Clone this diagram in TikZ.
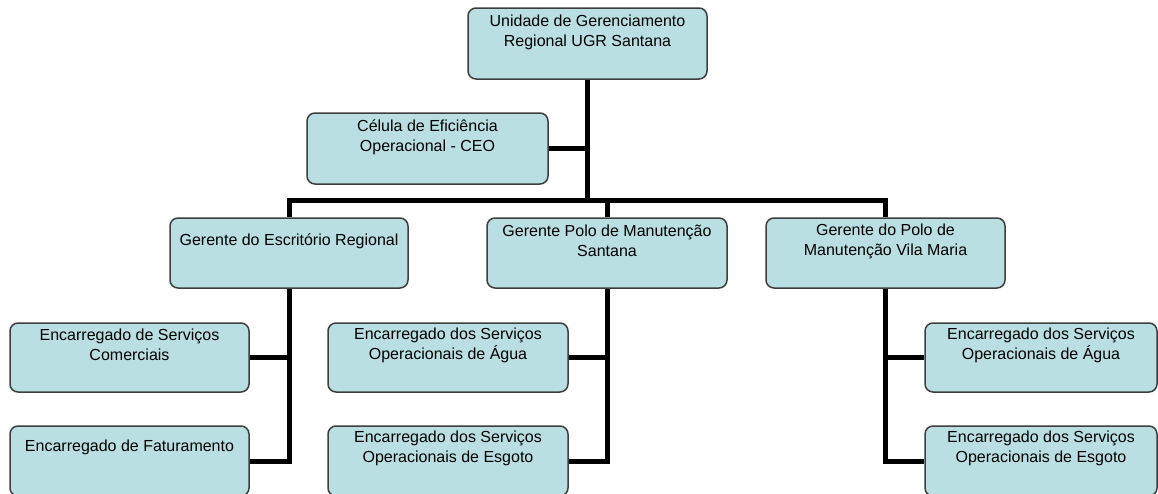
\documentclass[tikz,border=0pt]{standalone}
\usepackage{fontspec}
\setmainfont{Liberation Sans}
\usetikzlibrary{backgrounds}
\definecolor{boxfill}{RGB}{185,223,226}
\definecolor{boxline}{RGB}{62,62,62}
\tikzset{
  orgbox/.style={draw=boxline, fill=boxfill, rounded corners=8pt, line width=1.5pt,
    inner sep=0pt, minimum height=70pt},
  txt/.style={align=center, inner sep=0pt, font=\fontsize{16}{20}\selectfont},
  link/.style={draw=black, line width=5pt, line join=miter}
}
\begin{document}
\begin{tikzpicture}[x=1pt, y=-1pt]
\useasboundingbox (0,0) rectangle (1158,493);
\clip (0,0) rectangle (1158,493);

% boxes
\node[orgbox, minimum width=239pt, minimum height=71pt] (top) at (587.5,43.5) {};
\node[orgbox, minimum width=241pt, minimum height=71pt] (ceo) at (427.5,148.5) {};
\node[orgbox, minimum width=238pt] (g1) at (289,253) {};
\node[orgbox, minimum width=240pt] (g2) at (607,253) {};
\node[orgbox, minimum width=239pt] (g3) at (885.5,253) {};
\node[orgbox, minimum width=239pt, minimum height=69pt] (l1) at (129.5,357.5) {};
\node[orgbox, minimum width=239pt] (l2) at (129.5,461) {};
\node[orgbox, minimum width=240pt, minimum height=69pt] (m1) at (448,357.5) {};
\node[orgbox, minimum width=240pt] (m2) at (448,461) {};
\node[orgbox, minimum width=232pt, minimum height=69pt] (r1) at (1041,357.5) {};
\node[orgbox, minimum width=232pt] (r2) at (1041,461) {};

% texts
\node[txt] (top-t) at ([yshift=-25pt]top.north) {Unidade de Gerenciamento\\Regional UGR Santana};
\node[txt] (ceo-t) at ([yshift=-25pt]ceo.north) {Célula de Eficiência\\Operacional - CEO};
\node[txt] (g1-t) at ([yshift=-24pt]g1.north) {Gerente do Escritório Regional};
\node[txt] (g2-t) at ([yshift=-24pt]g2.north) {Gerente Polo de Manutenção\\Santana};
\node[txt] (g3-t) at ([yshift=-24pt]g3.north) {Gerente do Polo de\\Manutenção Vila Maria};
\node[txt] (l1-t) at ([yshift=-23pt]l1.north) {Encarregado de Serviços\\Comerciais};
\node[txt] (l2-t) at ([yshift=-22pt]l2.north) {Encarregado de Faturamento};
\node[txt] (m1-t) at ([yshift=-23pt]m1.north) {Encarregado dos Serviços\\Operacionais de Água};
\node[txt] (m2-t) at ([yshift=-23pt]m2.north) {Encarregado dos Serviços\\Operacionais de Esgoto};
\node[txt] (r1-t) at ([yshift=-23pt]r1.north) {Encarregado dos Serviços\\Operacionais de Água};
\node[txt] (r2-t) at ([yshift=-23pt]r2.north) {Encarregado dos Serviços\\Operacionais de Esgoto};

% connectors
\coordinate (busL) at (289,200);
\begin{scope}[on background layer]
  \fill[white] (0,0) rectangle (1158,493);
  \draw[link] (top.south) -- (top.south |- busL);
  \draw[link] (ceo.east) -- (ceo.east -| top.south);
  \draw[link] (g1.north) -- (busL) -| (g3.north);
  \draw[link] (g2.north) -- (g2.north |- busL);
  \draw[link] (g1.south) |- (l2.east);
  \draw[link] (l1.east) -- (l1.east -| g1.south);
  \draw[link] (g2.south) |- (m2.east);
  \draw[link] (m1.east) -- (m1.east -| g2.south);
  \draw[link] (g3.south) |- (r2.west);
  \draw[link] (r1.west) -- (r1.west -| g3.south);
\end{scope}
\end{tikzpicture}
\end{document}
